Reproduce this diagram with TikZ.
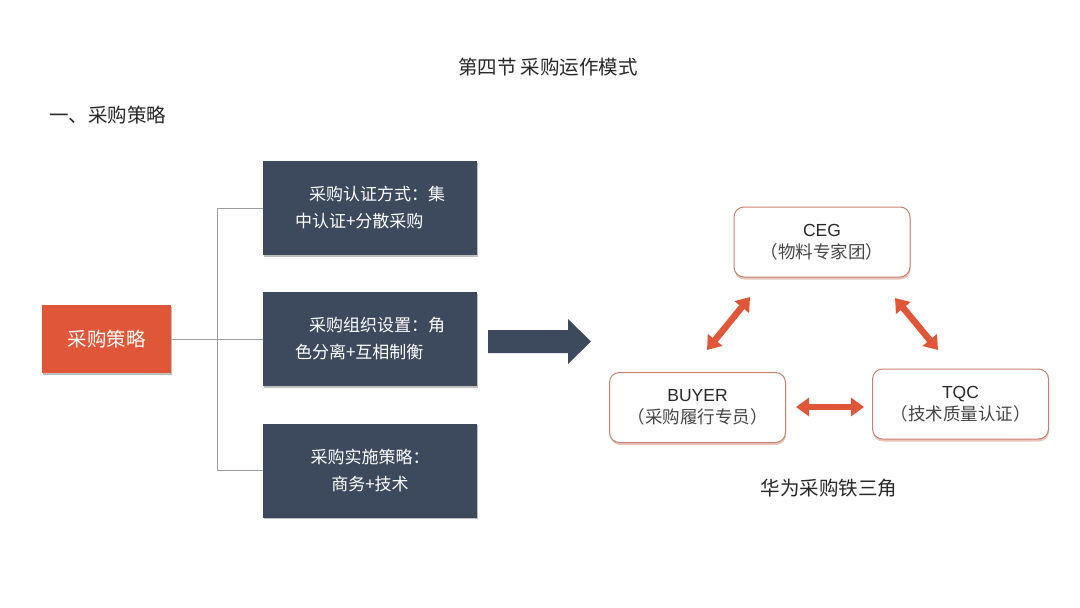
\documentclass[tikz,border=0pt]{standalone}
\usepackage{fontspec}
\setmainfont{Noto Sans CJK SC}
\newfontfamily\latinsans{Liberation Sans}
\usetikzlibrary{arrows.meta,shadows}
\definecolor{darkbox}{RGB}{61,74,94}
\definecolor{orangered}{RGB}{224,86,56}
\definecolor{rimcol}{RGB}{200,128,110}
\definecolor{txtdark}{RGB}{40,40,40}
\definecolor{txtgray}{RGB}{70,70,70}
\begin{document}
\begin{tikzpicture}[x=1pt,y=-1pt,
  darkstyle/.style={fill=darkbox, minimum width=214pt, minimum height=94pt, inner sep=0pt,
    text=white, font=\fontsize{17}{27}\selectfont,
    drop shadow={shadow xshift=1pt,shadow yshift=-1.5pt,fill=black,opacity=0.25}},
  orangestyle/.style={fill=orangered, minimum width=129pt, minimum height=68pt, inner sep=0pt,
    text=white, font=\fontsize{19.5}{24}\selectfont,
    drop shadow={shadow xshift=1pt,shadow yshift=-1.5pt,fill=black,opacity=0.25}},
  roundbox/.style={draw=rimcol, line width=1pt, fill=white, rounded corners=10pt,
    minimum width=176pt, minimum height=70pt, inner sep=0pt, align=center,
    text=txtdark, font=\fontsize{17.5}{22}\selectfont,
    drop shadow={shadow xshift=0.5pt,shadow yshift=-2.5pt,fill=rimcol,opacity=0.45}},
  conn/.style={draw=gray!75, line width=0.9pt},
  tri/.style={draw=orangered, line width=6.5pt,
    {Triangle[width=18pt,length=13pt]}-{Triangle[width=18pt,length=13pt]}},
]
\useasboundingbox[fill=white] (0,0) rectangle (1080,608);

% titles
\node[text=txtdark, font=\fontsize{19.5}{24}\selectfont] (title) at (548,67) {第四节 采购运作模式};
\node[text=txtdark, font=\fontsize{19.5}{24}\selectfont, anchor=west, inner sep=0pt] (head) at (49,115) {一、采购策略};

% left tree
\node[orangestyle] (strat) at (106.5,339) {采购策略};
\node[darkstyle, align=left] (b1) at (370,208) {\hspace{14pt}采购认证方式：集\\中认证+分散采购};
\node[darkstyle, align=left] (b2) at (370,339) {\hspace{14pt}采购组织设置：角\\色分离+互相制衡};
\node[darkstyle, align=center] (b3) at (370,470.5) {采购实施策略：\\商务+技术};

\coordinate (j) at (217,339);
\draw[conn] (strat.east) -- (j);
\draw[conn] (j) -- (b2.west);
\draw[conn] (b1.west) -| (j);
\draw[conn] (b3.west) -| (j);

% big arrow
\fill[darkbox] (488,330) -- (568,330) -- (568,319) -- (591,341.5) -- (568,364)
  -- (568,353) -- (488,353) -- cycle;

% triangle
\node[roundbox] (ceg) at (822,242) {{\latinsans CEG}\\{\color{txtgray}（物料专家团）}};
\node[roundbox] (buyer) at (697.5,407.5) {{\latinsans BUYER}\\{\color{txtgray}（采购履行专员）}};
\node[roundbox] (tqc) at (960.5,404) {{\latinsans TQC}\\{\color{txtgray}（技术质量认证）}};

\coordinate (l1) at (750,297);
\coordinate (l2) at (707,350);
\coordinate (r1) at (895,298);
\coordinate (r2) at (938,350);
\coordinate (h1) at (796,407);
\coordinate (h2) at (864,407);
\draw[tri] (l1) -- (l2);
\draw[tri] (r1) -- (r2);
\draw[tri] (h1) -- (h2);

\node[text=txtdark, font=\fontsize{19.5}{24}\selectfont] (cap) at (829,488) {华为采购铁三角};
\end{tikzpicture}
\end{document}
